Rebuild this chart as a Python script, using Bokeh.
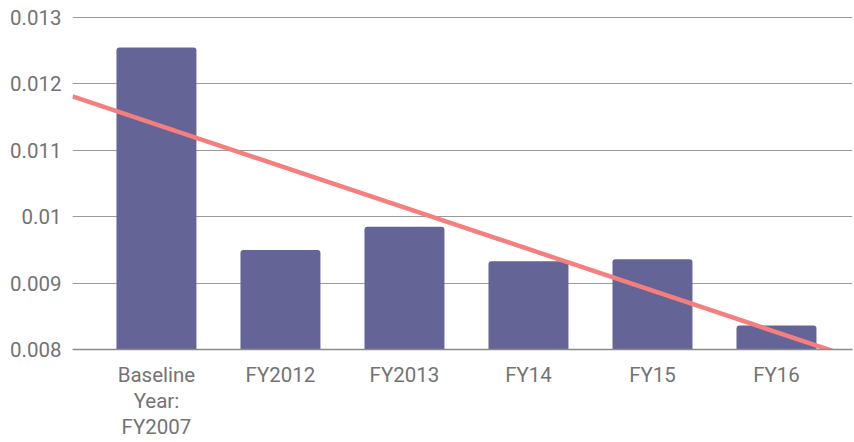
import numpy as np
from bokeh.plotting import figure
from bokeh.models import Range1d, FixedTicker, ColumnDataSource
from bokeh.embed import file_html
from bokeh.resources import INLINE

categories = ["Baseline\nYear:\nFY2007", "FY2012", "FY2013", "FY14", "FY15", "FY16"]
values = [0.01255, 0.00950, 0.00985, 0.00933, 0.00936, 0.00836]
y_ticks = [0.008, 0.009, 0.010, 0.011, 0.012, 0.013]
y_tick_labels = ["0.008", "0.009", "0.01", "0.011", "0.012", "0.013"]

xs = list(range(len(categories)))
x_start, x_end = -0.677, 5.613

p = figure(width=854, height=442, output_backend="svg", toolbar_location=None,
           x_range=Range1d(x_start, x_end), y_range=Range1d(0.008, 0.013015),
           min_border_left=72, min_border_right=2, min_border_top=16, min_border_bottom=92)
p.outline_line_color = None
p.background_fill_color = "white"

src = ColumnDataSource(dict(x=xs, top=values))
p.vbar(x="x", top="top", bottom=0.008, width=0.645, source=src,
       fill_color="#646496", line_color=None, border_radius=[3, 3, 0, 0])

# linear trendline computed from the data
slope, intercept = np.polyfit(xs, values, 1)
tx = [x_start, x_end]
ty = [intercept + slope * x for x in tx]
p.line(tx, ty, line_color="#f47f7f", line_width=4.5)

p.xaxis.ticker = FixedTicker(ticks=xs)
p.xaxis.major_label_overrides = {i: c for i, c in enumerate(categories)}
p.yaxis.ticker = FixedTicker(ticks=y_ticks)
p.yaxis.major_label_overrides = {t: l for t, l in zip(y_ticks, y_tick_labels)}

for ax in (p.xaxis, p.yaxis):
    ax.major_tick_line_color = None
    ax.minor_tick_line_color = None
    ax.major_tick_in = 0
    ax.major_tick_out = 0
    ax.major_label_text_font = "Roboto"
    ax.major_label_text_font_size = "20.5px"
    ax.major_label_text_color = "#737373"
p.yaxis.axis_line_color = None
p.yaxis.major_label_standoff = 11
p.xaxis.axis_line_color = "#8a8a8a"
p.xaxis.axis_line_width = 1.5
p.xaxis.major_label_standoff = 13
p.xaxis.major_label_text_line_height = 1.1

p.xgrid.grid_line_color = None
p.ygrid.grid_line_color = "#9a9a9a"
p.ygrid.grid_line_width = 1.2
p.ygrid.ticker = FixedTicker(ticks=y_ticks)

open("out.html", "w").write(file_html(p, INLINE))
